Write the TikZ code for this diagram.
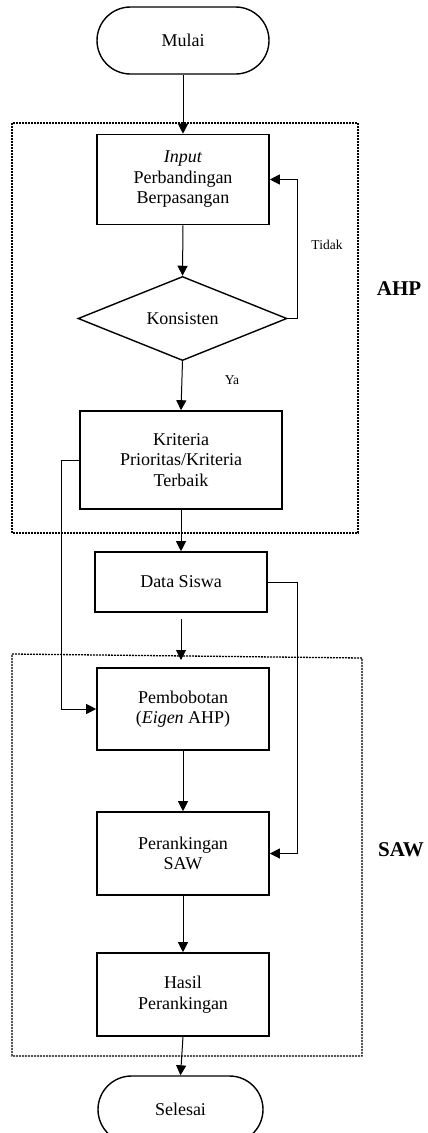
\documentclass[tikz,border=0pt]{standalone}
\usepackage{fontspec}
\setmainfont{Liberation Serif}
\usetikzlibrary{arrows.meta,shapes.geometric,shapes.misc}
\begin{document}
\begin{tikzpicture}[x=1pt,y=-1pt,
  every node/.style={font=\fontsize{18}{20.5}\selectfont, align=center, inner sep=0pt},
  procbox/.style={draw, line width=1.6pt, minimum width=172pt},
  terminal/.style={draw, line width=1.4pt, rounded rectangle, minimum height=67pt},
  decision/.style={draw, line width=1.4pt, diamond, minimum width=209pt, minimum height=83pt},
  flow/.style={line width=1pt, -{Triangle[length=10pt,width=10pt]}},
  group/.style={draw, line width=1.3pt, dash pattern=on 1.8pt off 1.2pt},
  small/.style={font=\fontsize{13.5}{15}\selectfont},
  grouplabel/.style={font=\fontsize{21}{24}\selectfont\bfseries}
]
\clip (0,0) rectangle (428,1133);
\useasboundingbox (0,0) rectangle (428,1133);

% dotted group frames
\draw[group] (12,123) rectangle (358,533);
\draw[group] (12,654) -- (362,658) -- (362,1056) -- (12,1056) -- cycle;
\node[grouplabel] (lahp) at (399,289) {AHP};
\node[grouplabel] (lsaw) at (401,850) {SAW};

% flowchart nodes
\node[terminal, minimum width=172pt] (mulai) at (183,40.5) {Mulai};
\node[procbox, minimum height=90pt] (input) at (183,179.5) {\textit{Input}\\Perbandingan\\Berpasangan};
\node[decision] (kons) at (182.5,318.5) {Konsisten};
\node[procbox, minimum width=202pt, minimum height=98pt] (krit) at (181,460) {Kriteria\\Prioritas/Kriteria\\Terbaik};
\node[procbox, minimum height=60pt] (data) at (181,582) {Data Siswa};
\node[procbox, minimum height=82pt] (pemb) at (183,709) {Pembobotan\\(\textit{Eigen} AHP)};
\node[procbox, minimum height=83pt] (peran) at (183,853.5) {Perankingan\\SAW};
\node[procbox, minimum height=83pt] (hasil) at (183,994.5) {Hasil\\Perankingan};
\node[terminal, minimum width=165pt] (selesai) at (180.5,1109.5) {Selesai};

\node[small] (tidak) at (327,245) {Tidak};
\node[small] (ya) at (232,380) {Ya};

\coordinate (sawin) at (181,660);

% connectors
\draw[flow] (mulai.south) -- (input.north);
\draw[flow] (input.south) -- (kons.north);
\draw[flow] (kons.east) -- (297,318.5) |- (input.east);
\draw[flow] (kons.south) -- (krit.north);
\draw[flow] (krit.south) -- (data.north);
\draw[flow] (krit.west) -- (61,460) |- (pemb.west);
\draw[flow] (data.east) -- (297,582) |- (peran.east);
\draw[flow, shorten <=6pt] (data.south) -- (sawin);
\draw[flow] (pemb.south) -- (peran.north);
\draw[flow] (peran.south) -- (hasil.north);
\draw[flow] (hasil.south) -- (selesai.north);
\end{tikzpicture}
\end{document}
